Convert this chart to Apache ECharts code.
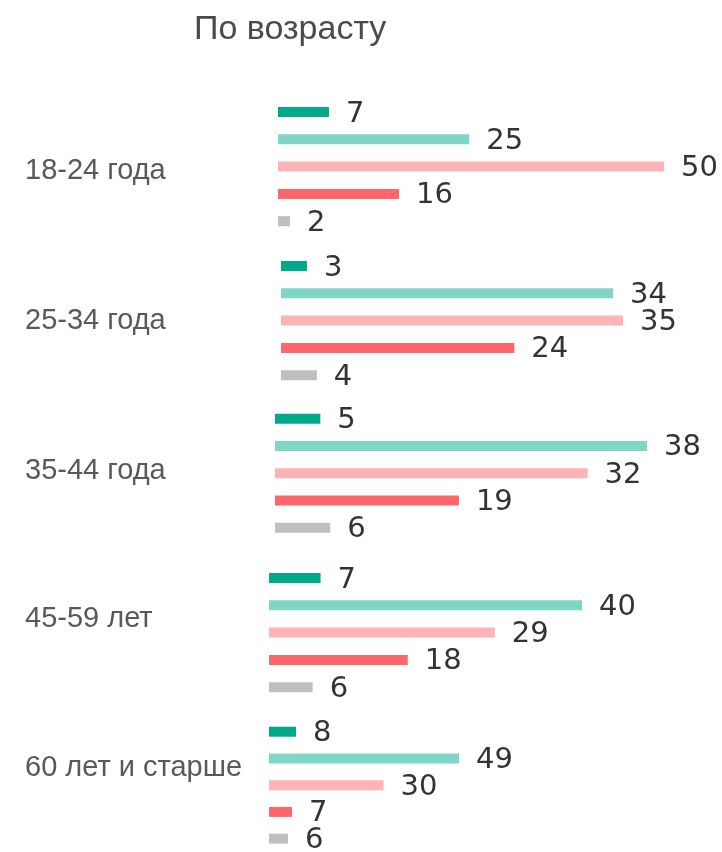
<!DOCTYPE html>
<html>
<head>
<meta charset="utf-8">
<script src="https://cdn.jsdelivr.net/npm/echarts@6/dist/echarts.min.js"></script>
<style>
  html, body { margin: 0; padding: 0; background: #fff; }
  #chart { width: 722px; height: 852px; }
</style>
</head>
<body>
<div id="chart"></div>
<script>
const ageGroups = ['18-24 года', '25-34 года', '35-44 года', '45-59 лет', '60 лет и старше']
const answer1 = [7, 3, 5, 7, 8]
const answer2 = [25, 34, 38, 40, 49]
const answer3 = [50, 35, 32, 29, 30]
const answer4 = [16, 24, 19, 18, 7]
const answer5 = [2, 4, 6, 6, 6]
const answers = [answer1, answer2, answer3, answer4, answer5]
const colors = ['#00AA88', '#80D6C4', '#FFB3B6', '#FF666B', '#BFBFBF']

// раскладка по группам
const gridLeft = [278, 281, 275, 269, 269]
const gridWidth = [386, 342, 372, 313, 190]
const gridTop = [98.35, 252.35, 405, 564.35, 718.35]
const axisMin = [0.46, 0.37, 0.42, 0.49, 1.2]
const labelY = [167.5, 317.5, 468, 615.8, 765]

const chart = echarts.init(document.getElementById('chart'))

const grids = ageGroups.map((g, i) => ({
  left: gridLeft[i], top: gridTop[i], width: gridWidth[i], height: 136.5
}))

const xAxes = ageGroups.map((g, i) => ({
  type: 'value', gridIndex: i, show: false,
  min: axisMin[i],
  max: Math.max(...answers.map(a => a[i]))
}))

const yAxes = ageGroups.map((g, i) => ({
  type: 'category', gridIndex: i, show: false, inverse: true,
  data: answers.map((a, j) => 'answer' + (j + 1))
}))

const series = ageGroups.map((g, i) => ({
  name: g,
  type: 'bar',
  xAxisIndex: i,
  yAxisIndex: i,
  barWidth: 10,
  data: answers.map((a, j) => ({ value: a[i], itemStyle: { color: colors[j] } })),
  label: {
    show: true,
    position: 'right',
    distance: 17,
    offset: [0, 2],
    fontFamily: 'DejaVu Sans',
    fontSize: 29,
    color: '#333333'
  }
}))

const titles = [{
  text: 'По возрасту',
  left: 194, top: 12.5, padding: 0,
  textStyle: { fontFamily: 'Liberation Sans', fontSize: 34, fontWeight: 'normal', color: '#4a4a4a' }
}].concat(ageGroups.map((g, i) => ({
  text: g,
  left: 25, top: labelY[i] - 11.5, padding: 0,
  textStyle: { fontFamily: 'Liberation Sans', fontSize: 29, fontWeight: 'normal', color: '#595959' }
})))

chart.setOption({
  animation: false,
  title: titles,
  grid: grids,
  xAxis: xAxes,
  yAxis: yAxes,
  series
})
</script>
</body>
</html>
